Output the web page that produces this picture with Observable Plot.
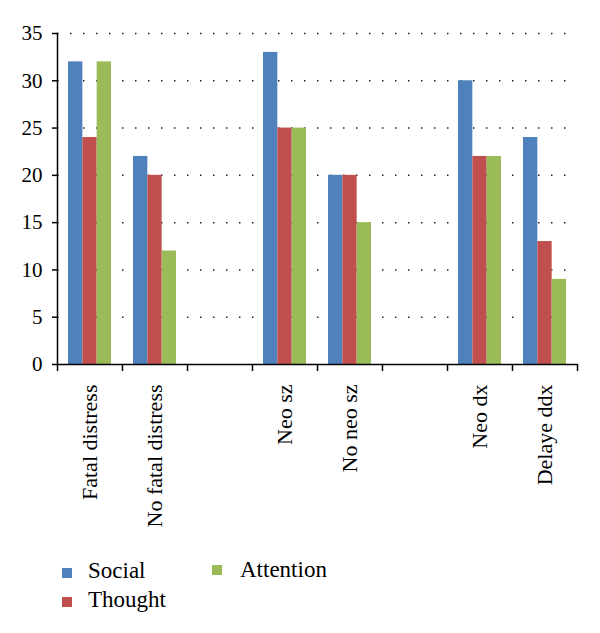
<!DOCTYPE html>
<html>
<head>
<meta charset="utf-8">
<script src="https://cdn.jsdelivr.net/npm/d3@7"></script>
<script src="https://cdn.jsdelivr.net/npm/@observablehq/plot@0.6"></script>
<style>
  html, body { margin: 0; padding: 0; background: #fff; }
  #wrap { position: relative; width: 600px; height: 633px; font-family: "Liberation Serif", serif; color: #000; }
  .sw { position: absolute; width: 10px; height: 10px; }
  .lt { position: absolute; font-size: 23px; line-height: 23px; white-space: nowrap; }
</style>
</head>
<body>
<div id="wrap">
  <div id="chart"></div>
  <div id="legend"></div>
</div>
<script>
// Data
const categories = ["Fatal distress", "No fatal distress", "", "Neo sz", "No neo sz", " ", "Neo dx", "Delaye ddx"];
const seriesNames = ["Social", "Thought", "Attention"];
const social    = [32, 22, null, 33, 20, null, 30, 24];
const thought   = [24, 20, null, 25, 20, null, 22, 13];
const attention = [32, 12, null, 25, 15, null, 22, 9];
const colors = ["#4F81BD", "#C0504D", "#9BBB59"];
const yTicks = [0, 5, 10, 15, 20, 25, 30, 35];

const values = [social, thought, attention];
const rows = [];
seriesNames.forEach((s, j) => {
  categories.forEach((c, i) => {
    if (values[j][i] != null) rows.push({cat: c, series: s, value: values[j][i]});
  });
});

const W = 600, H = 550, mL = 57, mR = 23, mT = 33, mB = 186;
const slot = (W - mL - mR) / categories.length;
const barW = 14.33;
const pad = (slot - 3 * barW) / 2;

const bars = seriesNames.map((s, j) =>
  Plot.barY(rows.filter(r => r.series === s), {
    x: "cat", y: "value", fill: colors[j],
    insetLeft: pad + j * barW,
    insetRight: pad + (2 - j) * barW
  })
);

const chart = Plot.plot({
  width: W, height: H,
  marginLeft: mL, marginRight: mR, marginTop: mT, marginBottom: mB,
  style: {fontFamily: "'Liberation Serif', serif", fontSize: "20px", color: "#000", background: "#fff"},
  x: {type: "band", domain: categories, padding: 0, axis: null},
  y: {domain: [0, 35], axis: null},
  marks: [
    Plot.gridY(yTicks.filter(t => t > 0), {stroke: "#222", strokeOpacity: 1, strokeWidth: 1.5, strokeDasharray: "1.5,11.5"}),
    ...bars,
    Plot.ruleY([0], {stroke: "#000", strokeWidth: 1.5}),
    Plot.frame({anchor: "left", stroke: "#000", strokeWidth: 1.5}),
    Plot.axisY(yTicks, {tickSize: 5, tickPadding: 10, fontSize: 21, label: null, stroke: "#000", strokeWidth: 1.5}),
    Plot.axisX({tickSize: 0, tickPadding: 20, tickRotate: -90, fontSize: 22, label: null, tickFormat: d => d.trim()}),
    Plot.axisX({tickSize: 7, tickFormat: () => "", label: null, dx: -slot / 2, stroke: "#000", strokeWidth: 1.5}),
    Plot.axisX([categories[categories.length - 1]], {tickSize: 7, tickFormat: () => "", label: null, dx: slot / 2, stroke: "#000", strokeWidth: 1.5})
  ]
});
document.getElementById("chart").appendChild(chart);

// Legend (HTML, below the SVG)
const legendPos = [
  {sx: 62, sy: 568, tx: 88, ty: 559},
  {sx: 62, sy: 597, tx: 88, ty: 588},
  {sx: 212, sy: 565, tx: 240, ty: 558}
];
const legend = document.getElementById("legend");
seriesNames.forEach((s, j) => {
  const p = legendPos[j];
  const sw = document.createElement("div");
  sw.className = "sw";
  sw.style.left = p.sx + "px"; sw.style.top = p.sy + "px"; sw.style.background = colors[j];
  const t = document.createElement("div");
  t.className = "lt";
  t.style.left = p.tx + "px"; t.style.top = p.ty + "px";
  t.textContent = s;
  legend.appendChild(sw); legend.appendChild(t);
});
</script>
</body>
</html>
